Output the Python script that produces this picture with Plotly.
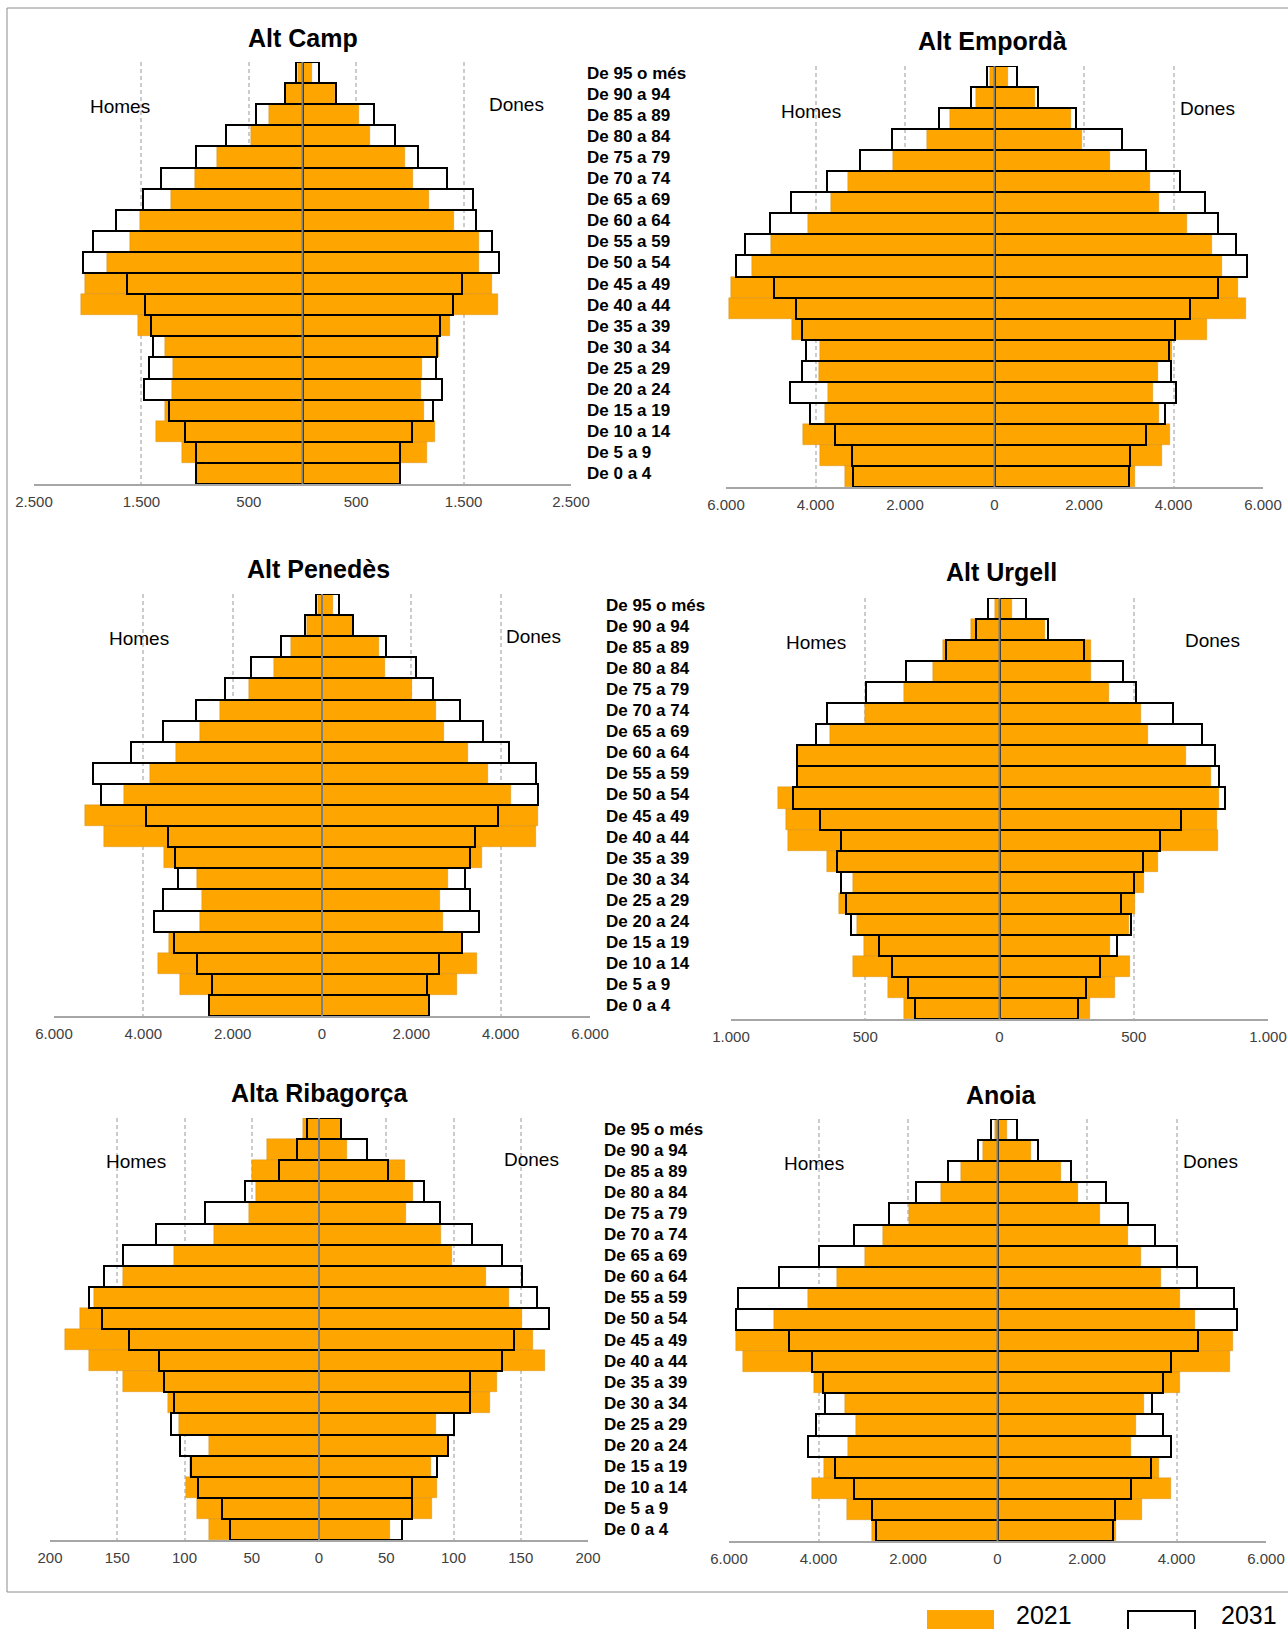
import plotly.graph_objects as go

W, H = 1288, 1629

AGES = ["De 95 o més", "De 90 a 94", "De 85 a 89", "De 80 a 84", "De 75 a 79",
        "De 70 a 74", "De 65 a 69", "De 60 a 64", "De 55 a 59", "De 50 a 54",
        "De 45 a 49", "De 40 a 44", "De 35 a 39", "De 30 a 34", "De 25 a 29",
        "De 20 a 24", "De 15 a 19", "De 10 a 14", "De 5 a 9", "De 0 a 4"]

# ---- Alt Camp ----
alt_camp_homes_2021 = [45, 160, 312, 479, 796, 1004, 1225, 1513, 1608, 1825, 2021, 2067, 1529, 1283, 1204, 1213, 1283, 1367, 1125, 979]
alt_camp_homes_2031 = [60, 162, 429, 708, 996, 1321, 1488, 1733, 1954, 2042, 1638, 1467, 1408, 1388, 1425, 1475, 1246, 1092, 988, 992]
alt_camp_dones_2021 = [90, 305, 525, 625, 958, 1025, 1175, 1408, 1646, 1646, 1763, 1821, 1375, 1267, 1108, 1100, 1129, 1233, 1158, 900]
alt_camp_dones_2031 = [155, 308, 662, 858, 1075, 1342, 1583, 1617, 1763, 1833, 1488, 1400, 1283, 1254, 1242, 1296, 1213, 1017, 908, 908]

# ---- Alt Empordà ----
alt_emporda_homes_2021 = [94, 417, 1004, 1506, 2264, 3268, 3651, 4162, 5004, 5421, 5898, 5923, 4519, 3906, 3932, 3728, 3796, 4272, 3906, 3336]
alt_emporda_homes_2031 = [162, 528, 1234, 2289, 3013, 3753, 4553, 5013, 5574, 5770, 4919, 4434, 4306, 4204, 4298, 4570, 4119, 3566, 3191, 3157]
alt_emporda_dones_2021 = [298, 894, 1719, 1949, 2587, 3464, 3685, 4306, 4851, 5081, 5447, 5609, 4749, 3966, 3660, 3532, 3685, 3915, 3753, 3149]
alt_emporda_dones_2031 = [502, 962, 1830, 2843, 3387, 4145, 4698, 4996, 5404, 5634, 4996, 4374, 4026, 3889, 3949, 4051, 3821, 3379, 3021, 3004]

# ---- Alt Penedès ----
alt_penedes_homes_2021 = [80, 340, 700, 1080, 1640, 2280, 2740, 3270, 3840, 4440, 5300, 4880, 3530, 2790, 2680, 2740, 3430, 3680, 3180, 2540]
alt_penedes_homes_2031 = [140, 380, 910, 1590, 2170, 2830, 3570, 4280, 5130, 4950, 3940, 3440, 3300, 3230, 3570, 3760, 3320, 2800, 2470, 2540]
alt_penedes_dones_2021 = [250, 690, 1280, 1400, 2010, 2550, 2740, 3260, 3710, 4230, 4830, 4780, 3590, 2830, 2650, 2710, 3130, 3470, 3030, 2390]
alt_penedes_dones_2031 = [370, 700, 1430, 2100, 2480, 3080, 3600, 4180, 4780, 4830, 3930, 3430, 3310, 3200, 3310, 3520, 3130, 2630, 2350, 2390]

# ---- Alt Urgell ----
alt_urgell_homes_2021 = [17, 105, 210, 249, 355, 501, 631, 754, 754, 825, 794, 787, 642, 547, 599, 531, 504, 547, 416, 357]
alt_urgell_homes_2031 = [41, 88, 200, 348, 499, 642, 682, 756, 756, 770, 669, 592, 604, 589, 572, 554, 447, 402, 341, 314]
alt_urgell_dones_2021 = [48, 170, 342, 342, 408, 527, 553, 695, 787, 817, 810, 812, 591, 540, 503, 483, 412, 487, 430, 338]
alt_urgell_dones_2031 = [99, 179, 313, 459, 507, 645, 753, 801, 817, 839, 676, 599, 533, 500, 453, 489, 439, 374, 321, 294]

# ---- Alta Ribagorça ----
alta_ribagorca_homes_2021 = [12, 39, 50, 47, 52, 78, 108, 146, 167, 178, 189, 171, 146, 112, 104, 82, 96, 99, 91, 82]
alta_ribagorca_homes_2031 = [9, 16, 30, 55, 85, 121, 146, 160, 171, 161, 141, 119, 115, 108, 110, 103, 95, 90, 72, 66]
alta_ribagorca_dones_2021 = [16, 21, 64, 70, 65, 91, 99, 124, 141, 151, 159, 168, 132, 127, 87, 96, 83, 88, 84, 53]
alta_ribagorca_dones_2031 = [16, 36, 51, 78, 90, 114, 136, 151, 162, 171, 145, 136, 112, 112, 100, 96, 88, 69, 69, 62]

# ---- Anoia ----
anoia_homes_2021 = [51, 324, 818, 1261, 1968, 2564, 2956, 3595, 4233, 4991, 5835, 5698, 4097, 3407, 3160, 3339, 3867, 4140, 3356, 2811]
anoia_homes_2031 = [136, 434, 1099, 1814, 2428, 3203, 3995, 4872, 5792, 5843, 4651, 4148, 3893, 3850, 4055, 4233, 3637, 3203, 2794, 2726]
anoia_dones_2021 = [204, 741, 1422, 1806, 2291, 2913, 3211, 3654, 4080, 4404, 5273, 5204, 4080, 3271, 3092, 2981, 3603, 3867, 3228, 2658]
anoia_dones_2031 = [434, 911, 1644, 2428, 2913, 3509, 4012, 4455, 5290, 5341, 4472, 3884, 3697, 3458, 3697, 3884, 3424, 2990, 2615, 2572]

# ---- Tick values / labels ----
TICKS_2500 = [-2500, -1500, -500, 500, 1500, 2500]
TICKLABELS_2500 = ["2.500", "1.500", "500", "500", "1.500", "2.500"]
TICKS_6000 = [-6000, -4000, -2000, 0, 2000, 4000, 6000]
TICKLABELS_6000 = ["6.000", "4.000", "2.000", "0", "2.000", "4.000", "6.000"]
TICKS_1000 = [-1000, -500, 0, 500, 1000]
TICKLABELS_1000 = ["1.000", "500", "0", "500", "1.000"]
TICKS_200 = [-200, -150, -100, -50, 0, 50, 100, 150, 200]
TICKLABELS_200 = ["200", "150", "100", "50", "0", "50", "100", "150", "200"]

ORANGE = "#FFA500"
FONT = "Liberation Sans, Arial, sans-serif"

panels = [
    dict(title="Alt Camp", m21=alt_camp_homes_2021, m31=alt_camp_homes_2031,
         w21=alt_camp_dones_2021, w31=alt_camp_dones_2031, rng=2500,
         tv=TICKS_2500, tt=TICKLABELS_2500, box=(34, 571, 62, 484),
         tpos=(303, 38), hpos=(120, 107), dpos=(516, 105), ages=True),
    dict(title="Alt Empordà", m21=alt_emporda_homes_2021, m31=alt_emporda_homes_2031,
         w21=alt_emporda_dones_2021, w31=alt_emporda_dones_2031, rng=6000,
         tv=TICKS_6000, tt=TICKLABELS_6000, box=(726, 1263, 66, 487),
         tpos=(992, 41), hpos=(811, 111), dpos=(1207, 109), ages=False),
    dict(title="Alt Penedès", m21=alt_penedes_homes_2021, m31=alt_penedes_homes_2031,
         w21=alt_penedes_dones_2021, w31=alt_penedes_dones_2031, rng=6000,
         tv=TICKS_6000, tt=TICKLABELS_6000, box=(54, 590, 594, 1016),
         tpos=(318, 569), hpos=(139, 638), dpos=(533, 636), ages=True),
    dict(title="Alt Urgell", m21=alt_urgell_homes_2021, m31=alt_urgell_homes_2031,
         w21=alt_urgell_dones_2021, w31=alt_urgell_dones_2031, rng=1000,
         tv=TICKS_1000, tt=TICKLABELS_1000, box=(731, 1268, 598, 1019),
         tpos=(1001, 572), hpos=(816, 642), dpos=(1212, 640), ages=False),
    dict(title="Alta Ribagorça", m21=alta_ribagorca_homes_2021, m31=alta_ribagorca_homes_2031,
         w21=alta_ribagorca_dones_2021, w31=alta_ribagorca_dones_2031, rng=200,
         tv=TICKS_200, tt=TICKLABELS_200, box=(50, 588, 1118, 1540),
         tpos=(320, 1093), hpos=(136, 1161), dpos=(531, 1159), ages=True),
    dict(title="Anoia", m21=anoia_homes_2021, m31=anoia_homes_2031,
         w21=anoia_dones_2021, w31=anoia_dones_2031, rng=6000,
         tv=TICKS_6000, tt=TICKLABELS_6000, box=(729, 1266, 1119, 1541),
         tpos=(1001, 1095), hpos=(814, 1163), dpos=(1210, 1161), ages=False),
]

fig = go.Figure()
shapes = []
annotations = []
layout_axes = {}

for i, p in enumerate(panels, start=1):
    xa = "x" if i == 1 else f"x{i}"
    ya = "y" if i == 1 else f"y{i}"
    neg = lambda v: [-a for a in v]
    # 2021 filled bars
    for vals in (neg(p["m21"]), p["w21"]):
        fig.add_trace(go.Bar(x=vals, y=AGES, orientation="h", xaxis=xa, yaxis=ya,
                             width=1, marker=dict(color=ORANGE, line=dict(color="rgba(190,120,0,0.6)", width=0.5)),
                             showlegend=False, hoverinfo="x+y"))
    # 2031 outline bars
    for vals in (neg(p["m31"]), p["w31"]):
        fig.add_trace(go.Bar(x=vals, y=AGES, orientation="h", xaxis=xa, yaxis=ya,
                             width=1, marker=dict(color="rgba(0,0,0,0)", line=dict(color="#000000", width=2)),
                             showlegend=False, hoverinfo="x+y"))

    x0, x1, y0, y1 = p["box"]
    xkey = "xaxis" if i == 1 else f"xaxis{i}"
    ykey = "yaxis" if i == 1 else f"yaxis{i}"
    layout_axes[xkey] = dict(
        domain=[x0 / W, x1 / W], anchor=ya, range=[-p["rng"], p["rng"]],
        tickmode="array", tickvals=p["tv"], ticktext=p["tt"],
        showgrid=True, gridcolor="#cccccc", griddash="4px,3px", gridwidth=1.5,
        zeroline=False, showline=True, linecolor="#a6a6a6", linewidth=2,
        ticks="", ticklabelstandoff=3, automargin=False,
        tickfont=dict(family=FONT, size=15, color="#404040"), fixedrange=True)
    layout_axes[ykey] = dict(
        domain=[1 - y1 / H, 1 - y0 / H], anchor=xa, type="category",
        categoryorder="array", categoryarray=AGES, range=[len(AGES) - 0.5, -0.5],
        side="right", showticklabels=p["ages"], ticks="", ticklabelstandoff=15,
        automargin=False,
        tickfont=dict(family=FONT, size=17, color="#000000", weight="bold"),
        showgrid=False, zeroline=False, showline=False, fixedrange=True)

    # center line
    shapes.append(dict(type="line", xref=xa, yref=f"{ya} domain", x0=0, x1=0, y0=0, y1=1,
                       line=dict(color="#808080", width=2), layer="above"))
    # title, Homes, Dones
    annotations.append(dict(text=p["title"], x=p["tpos"][0] / W, y=1 - p["tpos"][1] / H,
                            xref="paper", yref="paper", showarrow=False, xanchor="center", yanchor="middle",
                            font=dict(family=FONT, size=25, color="#000000", weight="bold")))
    annotations.append(dict(text="Homes", x=p["hpos"][0] / W, y=1 - p["hpos"][1] / H,
                            xref="paper", yref="paper", showarrow=False, xanchor="center", yanchor="middle",
                            font=dict(family=FONT, size=19, color="#000000")))
    annotations.append(dict(text="Dones", x=p["dpos"][0] / W, y=1 - p["dpos"][1] / H,
                            xref="paper", yref="paper", showarrow=False, xanchor="center", yanchor="middle",
                            font=dict(family=FONT, size=19, color="#000000")))

# outer frame
shapes.append(dict(type="rect", xref="paper", yref="paper", x0=7 / W, x1=1300 / W,
                   y0=1 - 1592 / H, y1=1 - 8 / H, line=dict(color="#8c8c8c", width=1),
                   fillcolor="rgba(0,0,0,0)", layer="below"))

# legend
shapes.append(dict(type="rect", xref="paper", yref="paper", x0=927 / W, x1=994 / W,
                   y0=1 - 1640 / H, y1=1 - 1610 / H, line=dict(width=0), fillcolor=ORANGE))
shapes.append(dict(type="rect", xref="paper", yref="paper", x0=1128 / W, x1=1195 / W,
                   y0=1 - 1640 / H, y1=1 - 1611 / H, line=dict(color="#000000", width=2),
                   fillcolor="rgba(0,0,0,0)"))
annotations.append(dict(text="2021", x=1014 / W, y=1 - 1631 / H, xref="paper", yref="paper",
                        showarrow=False, xanchor="left", yanchor="bottom",
                        font=dict(family=FONT, size=25, color="#000000")))
annotations.append(dict(text="2031", x=1219 / W, y=1 - 1631 / H, xref="paper", yref="paper",
                        showarrow=False, xanchor="left", yanchor="bottom",
                        font=dict(family=FONT, size=25, color="#000000")))

fig.update_layout(
    width=W, height=H, margin=dict(l=0, r=0, t=0, b=0, autoexpand=False),
    paper_bgcolor="white", plot_bgcolor="rgba(0,0,0,0)",
    barmode="overlay", bargap=0, showlegend=False,
    shapes=shapes, annotations=annotations,
    font=dict(family=FONT),
    **layout_axes,
)

fig.write_html("out.html", config={"displayModeBar": False},
               post_script="document.body.style.margin='0';document.body.style.overflow='hidden';")
